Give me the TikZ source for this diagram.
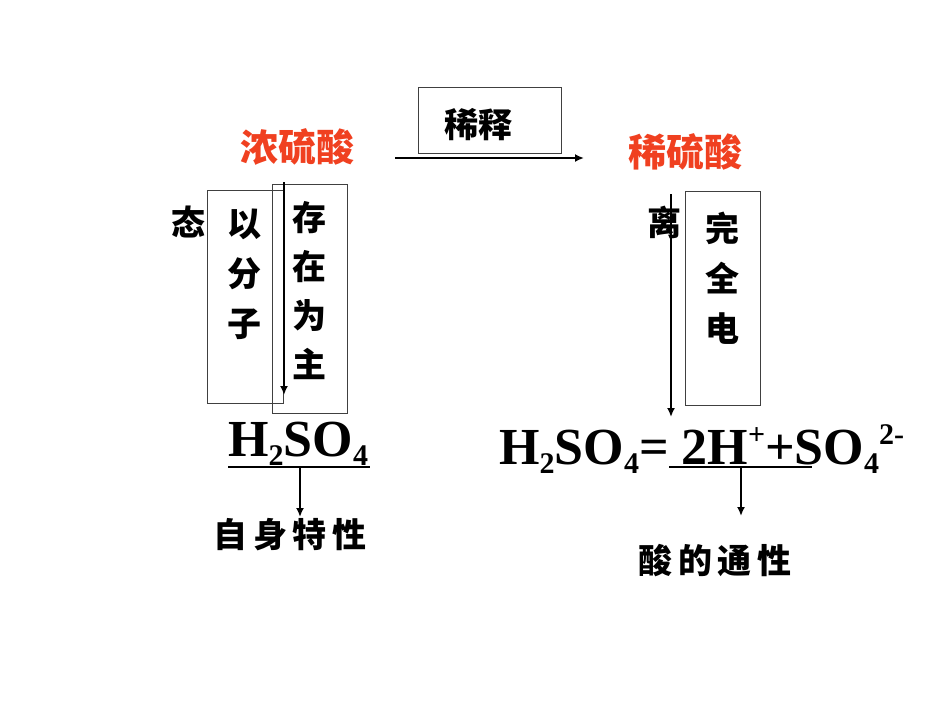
\documentclass[tikz,border=0pt]{standalone}
\usepackage{fontspec}
\setmainfont{Liberation Serif}
\newfontfamily\cjk{Noto Sans CJK SC}
\newcommand{\mysub}[1]{{\fontsize{30}{30}\selectfont\raisebox{-9pt}{#1}}}
\newcommand{\mysup}[1]{{\fontsize{30}{30}\selectfont\raisebox{20pt}{#1}}}
\begin{document}
\begin{tikzpicture}[x=1pt,y=-1pt,
  zh/.style={font=\cjk\bfseries\fontsize{34}{40}\selectfont,inner sep=0pt},
  red/.style={zh,text={rgb,255:red,240;green,64;blue,32},font=\cjk\bfseries\fontsize{38}{40}\selectfont},
  frm/.style={draw=black!75,line width=0.8pt},
  arr/.style={draw,line width=2pt,-{Latex[length=9pt,width=8pt]}},
  chem/.style={font=\bfseries\fontsize{52}{56}\selectfont,inner sep=0pt,anchor=base west}]
\useasboundingbox (0,0) rectangle (950,713);
\usetikzlibrary{arrows.meta}
\node[red] (conc) at (297,147) {浓硫酸};
\node[red] (dil) at (685,152) {稀硫酸};
\draw[frm] (418,87) rectangle (561,153);
\node[zh] (xs) at (478,125) {稀释};
\coordinate (a1) at (395,158); \coordinate (a2) at (584,158);
\draw[arr] (a1) -- (a2);
% left
\node[zh] (tai) at (188,222) {态};
\draw[frm] (207,190) rectangle (283,403);
\draw[frm] (272,184) rectangle (347,413);
\node[zh,align=center,font=\cjk\bfseries\fontsize{34}{50}\selectfont] (yfz) at (244,274) {以\\分\\子};
\node[zh,align=center,font=\cjk\bfseries\fontsize{34}{49}\selectfont] (czwz) at (309,291) {存\\在\\为\\主};
\coordinate (l1) at (284,182); \coordinate (l2) at (284,395);
\draw[arr] (l1) -- (l2);
\node[chem] (h2so4) at (228,456) {H\mysub{2}SO\mysub{4}};
\coordinate (u1) at (228,467); \coordinate (u2) at (370,467);
\draw[line width=2pt] (u1) -- (u2);
\coordinate (d1) at (300,467); \coordinate (d2) at (300,517);
\draw[arr] (d1) -- (d2);
\node[zh] (zs) at (290,535) {自\,身\,特\,性};
% right
\node[zh] (li) at (664,222) {离};
\coordinate (r1) at (671,194); \coordinate (r2) at (671,417);
\draw[arr] (r1) -- (r2);
\draw[frm] (685,191) rectangle (760,405);
\node[zh,align=center,font=\cjk\bfseries\fontsize{34}{50}\selectfont] (wqd) at (722,278) {完\\全\\电};
\node[chem] (eq) at (499,464) {H\mysub{2}SO\mysub{4}= 2H\mysup{+}+SO\mysub{4}\mysup{2-}};
\coordinate (v1) at (669,467); \coordinate (v2) at (812,467);
\draw[line width=2pt] (v1) -- (v2);
\coordinate (e1) at (741,467); \coordinate (e2) at (741,516);
\draw[arr] (e1) -- (e2);
\node[zh] (sx) at (715,561) {酸\,的\,通\,性};
\end{tikzpicture}
\end{document}
